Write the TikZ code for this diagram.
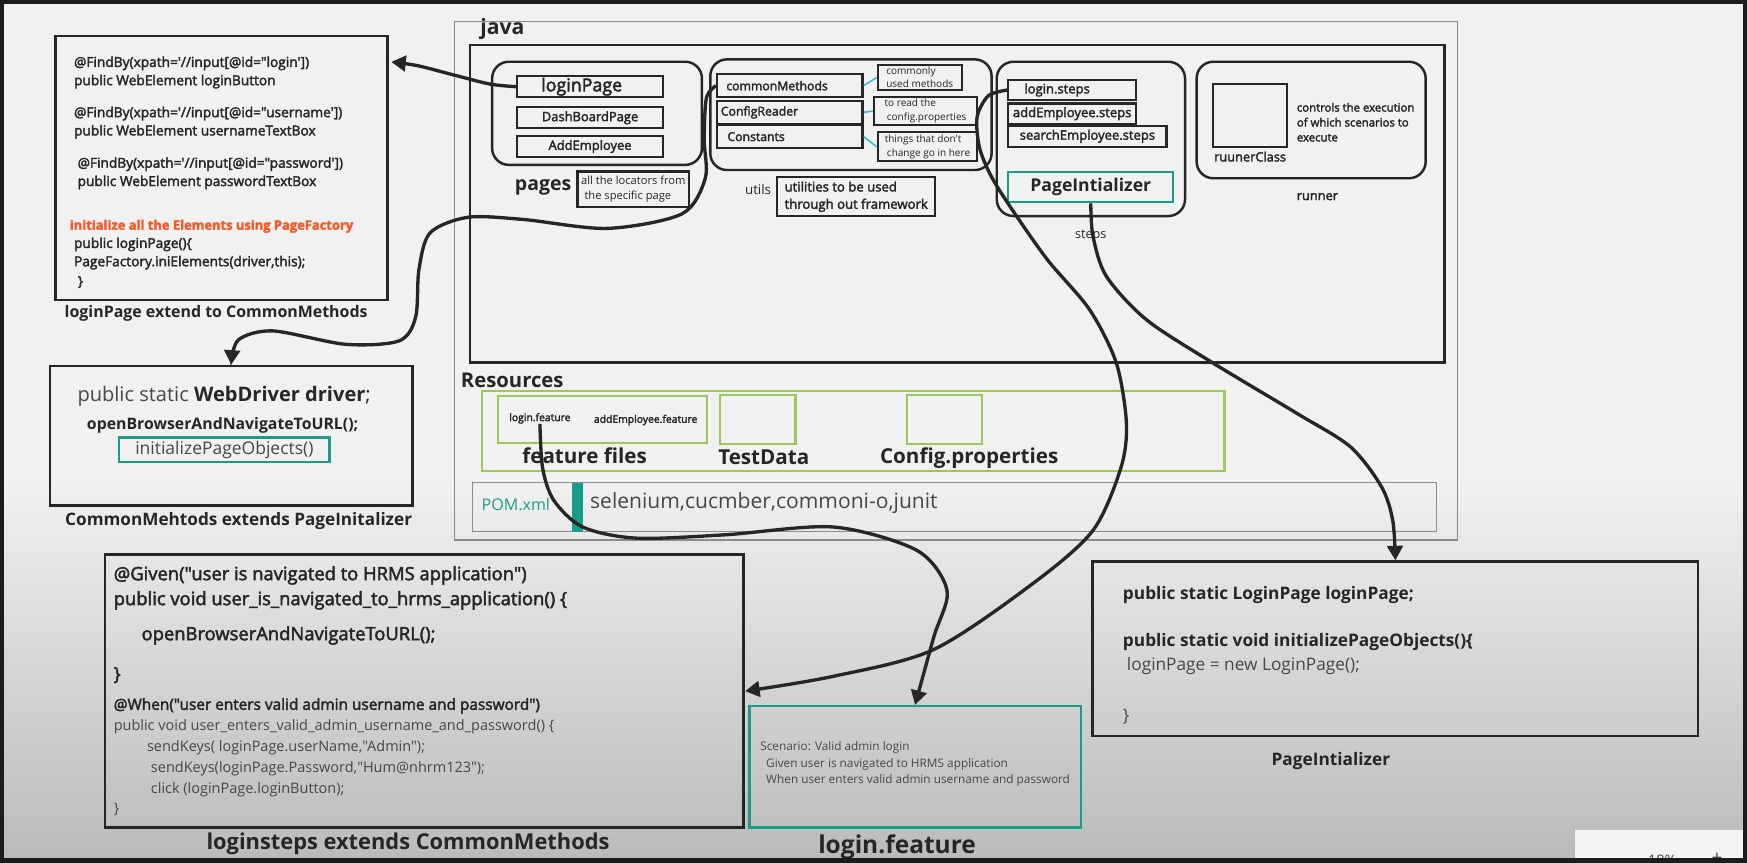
\documentclass[tikz,border=0pt]{standalone}
\usepackage{fontspec}
\setmainfont{Open Sans}[Ligatures=TeXOff]
\newfontfamily\semi{Open Sans}[Ligatures=TeXOff,FakeBold=2.5]
\usetikzlibrary{arrows.meta,calc}

\definecolor{inkc}{HTML}{262626}
\definecolor{softink}{HTML}{474747}
\definecolor{tealc}{HTML}{1A9C8A}
\definecolor{greenc}{HTML}{9CC75B}
\definecolor{orangec}{HTML}{F15A29}
\definecolor{cyanc}{HTML}{3BB8CF}
\definecolor{paper}{HTML}{F1F1F1}
\definecolor{shadowc}{HTML}{BABABA}
\definecolor{greyline}{HTML}{8C8C8C}
\definecolor{framec}{HTML}{1C1C1C}
\definecolor{widgetc}{HTML}{F4F4F4}

\begin{document}
\begin{tikzpicture}[
  x=1pt, y=-1pt,
  every node/.style={text=inkc},
  frame/.style={draw=inkc, line width=2.4pt, inner sep=0pt},
  group/.style={draw=inkc, line width=2.2pt, rounded corners=15pt, inner sep=0pt},
  item/.style={draw=inkc, line width=2pt, inner sep=0pt, font=\semi\fontsize{11.6}{13}\selectfont},
  note/.style={draw=inkc, line width=2pt, inner sep=0pt, align=left, font=\fontsize{9}{12}\selectfont},
  tealbox/.style={draw=tealc, line width=2pt, inner sep=0pt},
  greenbox/.style={draw=greenc, line width=2.2pt, inner sep=0pt},
  thinbox/.style={draw=greyline, line width=1pt, inner sep=0pt},
  code/.style={anchor=north west, inner sep=0pt, align=left},
  caption/.style={inner sep=0pt, font=\bfseries\fontsize{18.5}{20}\selectfont},
  tag/.style={inner sep=0pt, font=\semi\fontsize{11.5}{13}\selectfont},
  hint/.style={draw=cyanc, line width=1.4pt},
  link/.style={draw=inkc, line width=3pt, -{Triangle[width=14pt,length=13pt]}}
]
\useasboundingbox (0,0) rectangle (1568,773.7);
\fill[paper] (0,0) rectangle (1568,773.7);
\shade[top color=paper, bottom color=shadowc] (0,430) rectangle (1568,773.7);

% loginPage code
\node[frame, minimum width=298.2pt, minimum height=237pt] (locbox) at (198.9,150.8) {};
\node[code, font=\semi\fontsize{12.3}{16.4}\selectfont] (loccode) at (66.3,50.5) {@FindBy(xpath='//input[@id="login'])\\
public WebElement loginButton\\[12.3pt]
@FindBy(xpath='//input[@id="username'])\\
public WebElement usernameTextBox\\[12.6pt]
\hspace*{3.2pt}@FindBy(xpath='//input[@id="password'])\\
\hspace*{3.2pt}public WebElement passwordTextBox\\[22.8pt]
\hspace*{-3.8pt}{\color{orangec}\bfseries\fontsize{11.6}{16.4}\selectfont initialize all the Elements using PageFactory}\\
public loginPage()\{\\
PageFactory.iniElements(driver,this);\\[1.2pt]
\hspace*{3.4pt}\}};
\node[caption, font=\bfseries\fontsize{14.3}{16}\selectfont] (loccap) at (194,281.2) {loginPage extend to CommonMethods};

% CommonMethods
\node[frame, minimum width=325.2pt, minimum height=125.4pt] (drvbox) at (207.5,391.2) {};
\node[inner sep=0pt, font=\fontsize{18}{20}\selectfont] (drvline) at (201.2,355.5) {{\color{softink}public static }\textbf{WebDriver driver};};
\node[inner sep=0pt, font=\bfseries\fontsize{14.2}{17}\selectfont] (openurl) at (199.8,381.5) {openBrowserAndNavigateToURL();};
\node[tealbox, minimum width=188.5pt, minimum height=21.8pt, text=softink, font=\fontsize{15.7}{18}\selectfont] (initcall) at (201.4,403.5) {initializePageObjects()};
\node[caption, font=\bfseries\fontsize{15.4}{17}\selectfont] (drvcap) at (214.2,467.4) {CommonMehtods extends PageInitalizer};

% loginsteps
\node[frame, minimum width=573.4pt, minimum height=245.4pt] (stepcode) at (380.9,620.3) {};
\node[code, font=\semi\fontsize{16.5}{22.4}\selectfont] (givencode) at (101.9,508) {@Given("user is navigated to HRMS application")\\
public void user\_is\_navigated\_to\_hrms\_application() \{\\[9.1pt]
\hspace*{25pt}openBrowserAndNavigateToURL();\\[13.5pt]
\}};
\node[code, font=\semi\fontsize{13.8}{16}\selectfont] (whenhead) at (101.9,626.4) {@When("user enters valid admin username and password")};
\node[code, text=softink, font=\fontsize{13}{18.7}\selectfont] (whenbody) at (101.9,645.6) {public void user\_enters\_valid\_admin\_username\_and\_password() \{\\
\hspace*{29.9pt}sendKeys( loginPage.userName,"Admin");\\
\hspace*{33.4pt}sendKeys(loginPage.Password,"Hum@nhrm123");\\
\hspace*{33.4pt}click (loginPage.loginButton);\\
\}};
\node[caption, font=\bfseries\fontsize{19.6}{21}\selectfont] (stepcap) at (366.2,757) {loginsteps extends CommonMethods};

% login.feature
\node[tealbox, minimum width=297.4pt, minimum height=108.9pt] (featbox) at (821.3,688.2) {};
\node[code, text=softink, font=\fontsize{10.6}{15.2}\selectfont] (feattext) at (682.2,665) {Scenario: Valid admin login\\
\hspace*{5.3pt}Given user is navigated to HRMS application\\
\hspace*{5.3pt}When user enters valid admin username and password};
\node[caption, font=\bfseries\fontsize{22}{24}\selectfont] (featcap) at (805.2,760) {login.feature};

% PageIntializer
\node[frame, minimum width=543.2pt, minimum height=156.5pt] (initcode) at (1252.4,582.35) {};
\node[code, font=\fontsize{15.5}{21.8}\selectfont] (initbody) at (1007.7,526.4) {\textbf{public static LoginPage loginPage;}\\[20.1pt]
\textbf{public static void initializePageObjects()\{}\\
\hspace*{3.6pt}{\color{softink}loginPage = new LoginPage();}\\[23.7pt]
{\color{softink}\}}};
\node[caption, font=\bfseries\fontsize{15.5}{17}\selectfont] (initcap) at (1194.5,682.8) {PageIntializer};

% java
\node[thinbox, minimum width=900.3pt, minimum height=465.3pt] (javabox) at (857.85,252.05) {};
\node[inner sep=0pt, anchor=west, font=\bfseries\fontsize{19}{21}\selectfont] (javacap) at (431,26.3) {java};
\node[frame, line width=2.6pt, minimum width=874.6pt, minimum height=285.1pt] (srcbox) at (859.1,182.95) {};

% pages
\node[group, minimum width=188.3pt, minimum height=92.6pt] (pagesgrp) at (535.85,101.7) {};
\node[item, minimum width=131.2pt, minimum height=19.2pt, font=\semi\fontsize{16}{18}\selectfont] (lpg) at (529.6,77.8) {loginPage\hspace*{15pt}};
\node[item, minimum width=131.2pt, minimum height=18.9pt] (dbp) at (529.6,105.75) {DashBoardPage};
\node[item, minimum width=131.2pt, minimum height=19pt] (aep) at (529.6,131.5) {AddEmployee};
\node[inner sep=0pt, font=\bfseries\fontsize{17.5}{20}\selectfont] (pagescap) at (487.5,168) {pages};
\node[note, minimum width=100.3pt, minimum height=31.5pt, font=\fontsize{10}{13.2}\selectfont] (pagesnote) at (568.45,169.75) {all the locators from\\\hspace*{3pt}the specific page};

% utils
\node[group, minimum width=252.5pt, minimum height=99.3pt] (utilsgrp) at (763.75,102.95) {};
\node[item, minimum width=130.6pt, minimum height=21pt, text width=122pt, align=left, font=\semi\fontsize{11}{13}\selectfont] (cmm) at (708.9,76.9) {\hspace*{4pt}commonMethods};
\node[item, minimum width=130.6pt, minimum height=20.9pt, text width=122pt, align=left, font=\semi\fontsize{11}{13}\selectfont] (cfg) at (708.9,100.85) {\hspace*{-0.9pt}ConfigReader};
\node[item, minimum width=130.6pt, minimum height=20.9pt, text width=122pt, align=left, font=\semi\fontsize{11}{13}\selectfont] (cst) at (708.9,122.65) {\hspace*{5pt}Constants};
\node[note, minimum width=75.2pt, minimum height=22.5pt] (cmnote) at (825.5,69.55) {commonly\\used methods};
\node[note, minimum width=92.4pt, minimum height=25.7pt] (cfgnote) at (830.7,99.65) {to read the\\\hspace*{2pt}config.properties};
\node[note, minimum width=89pt, minimum height=26pt] (cstnote) at (832.4,131.8) {things that don't\\\hspace*{2pt}change go in here};
\draw[hint] (cmm.east) -- (cmnote.west);
\draw[hint] (cfg.east) -- (cfgnote.west);
\draw[hint] (cst.east) -- (cstnote.west);
\node[inner sep=0pt, font=\fontsize{12}{14}\selectfont] (utilscap) at (680.4,170.5) {utils};
\node[note, minimum width=141.8pt, minimum height=34.7pt, font=\semi\fontsize{11.8}{15.5}\selectfont] (utilnote) at (768.5,176.55) {utilities to be used\\through out framework};

% steps
\node[group, minimum width=169pt, minimum height=138.5pt] (stepsgrp) at (979.1,124.65) {};
\node[item, minimum width=114.6pt, minimum height=18pt, font=\semi\fontsize{11.7}{13}\selectfont] (lst) at (962.3,80.8) {login.steps\hspace*{27pt}};
\node[item, minimum width=114.6pt, minimum height=18.5pt, font=\semi\fontsize{11.7}{13}\selectfont] (aes) at (962.3,102.05) {addEmployee.steps};
\node[item, minimum width=142pt, minimum height=18.5pt, font=\semi\fontsize{11.7}{13}\selectfont] (ses) at (976,122.35) {searchEmployee.steps};
\node[tealbox, minimum width=148pt, minimum height=26.9pt, font=\bfseries\fontsize{15.8}{18}\selectfont] (pgi) at (979,168.15) {PageIntializer};
\node[inner sep=0pt, font=\fontsize{11.4}{13}\selectfont] (stepscap) at (979,211.8) {steps};

% runner
\node[group, minimum width=205.6pt, minimum height=104.6pt] (runnergrp) at (1176.8,107.7) {};
\node[frame, line width=2pt, minimum width=66.5pt, minimum height=56.2pt] (runcls) at (1121.65,103.5) {};
\node[tag] (runclscap) at (1122,140.6) {ruunerClass};
\node[code, font=\semi\fontsize{10.2}{13.4}\selectfont] (runnote) at (1163.8,92.2) {controls the execution\\of which scenarios to\\execute};
\node[tag] (runnercap) at (1182.4,176.5) {runner};

% Resources
\node[inner sep=0pt, anchor=west, font=\bfseries\fontsize{18.2}{20}\selectfont] (rescap) at (413.5,341.7) {Resources};
\node[greenbox, minimum width=666.3pt, minimum height=71.8pt] (resbox) at (765.85,386.6) {};
\node[greenbox, line width=2pt, minimum width=187.9pt, minimum height=41.9pt] (featgrp) at (540.75,376.45) {};
\node[inner sep=0pt, font=\semi\fontsize{9.3}{11}\selectfont] (lft) at (484.6,375.5) {login.feature};
\node[inner sep=0pt, font=\semi\fontsize{9.3}{11}\selectfont] (aeft) at (579.5,377) {addEmployee.feature};
\node[caption] (featfiles) at (524.75,409) {feature files};
\node[greenbox, line width=2pt, minimum width=67.4pt, minimum height=43.9pt] (tdbox) at (680.2,376.55) {};
\node[caption] (tdcap) at (685.5,410.5) {TestData};
\node[greenbox, line width=2pt, minimum width=67.3pt, minimum height=43.9pt] (cfgbox) at (847.85,376.55) {};
\node[caption] (cfgcap) at (869.9,410.8) {Config.properties};

% POM
\node[thinbox, minimum width=864.6pt, minimum height=44pt] (pombox) at (856.7,455.2) {};
\node[fill=tealc, inner sep=0pt, minimum width=9.6pt, minimum height=44pt] (pombar) at (518.3,455.2) {};
\node[inner sep=0pt, text=tealc, font=\fontsize{14.4}{16}\selectfont] (pomcap) at (463,452.4) {POM.xml};
\node[inner sep=0pt, anchor=west, text=softink, font=\fontsize{18.9}{21}\selectfont] (deps) at (529.5,451.8) {selenium,cucmber,commoni-o,junit};

% connectors
\draw[link] plot[smooth] coordinates {(lpg.west) (440,75.5) (410,68) (375,59) ($(locbox.north east)+(2,24.5)$)};
\draw[link] plot[smooth] coordinates {(cmm.west) (634,88) (632,125) (633,160) (612,192) (545,205) (470,197) (420,195) (386,209) (376,242) (373,285) (358,306) (310,309) (245,297) (214,305) (drvbox.north)};
\draw[link] plot[smooth] coordinates {(lst.west) (887,86) (877,105) (879,132) (889,157) (907,186) (940,233) (978,278) (1002,326) (1011,380) (1006,420) (981,476) (928,523) (838,583) (748,607) (stepcode.east)};
\draw[link] plot[smooth] coordinates {(pgi.south) (981,212) (993,248) (1029,287) (1089,326) (1164,371) (1212,401) (1240,437) (1250,467) (initcode.north)};
\draw[link] plot[smooth] coordinates {(lft.south) (487,420) (497,449) (523,473) (571,483) (651,480) (748,473) (823,494) (850,530) (838,572) (featbox.north)};

% zoom control
\node[fill=widgetc, inner sep=0pt, minimum width=156pt, minimum height=30pt, anchor=north west] (zoomctl) at (1413,745) {};
\draw[softink, line width=1.6pt] (1435,770.5) -- (1450,770.5);
\node[inner sep=0pt, anchor=base, text=softink, font=\fontsize{13}{15}\selectfont] (zoomval) at (1492,776.5) {18\%};
\node[inner sep=0pt, anchor=base, text=softink, font=\fontsize{17}{19}\selectfont] (zoomin) at (1541,776) {+};

\draw[framec, line width=7pt] (0,0) rectangle (1568,773.7);
\end{tikzpicture}
\end{document}
